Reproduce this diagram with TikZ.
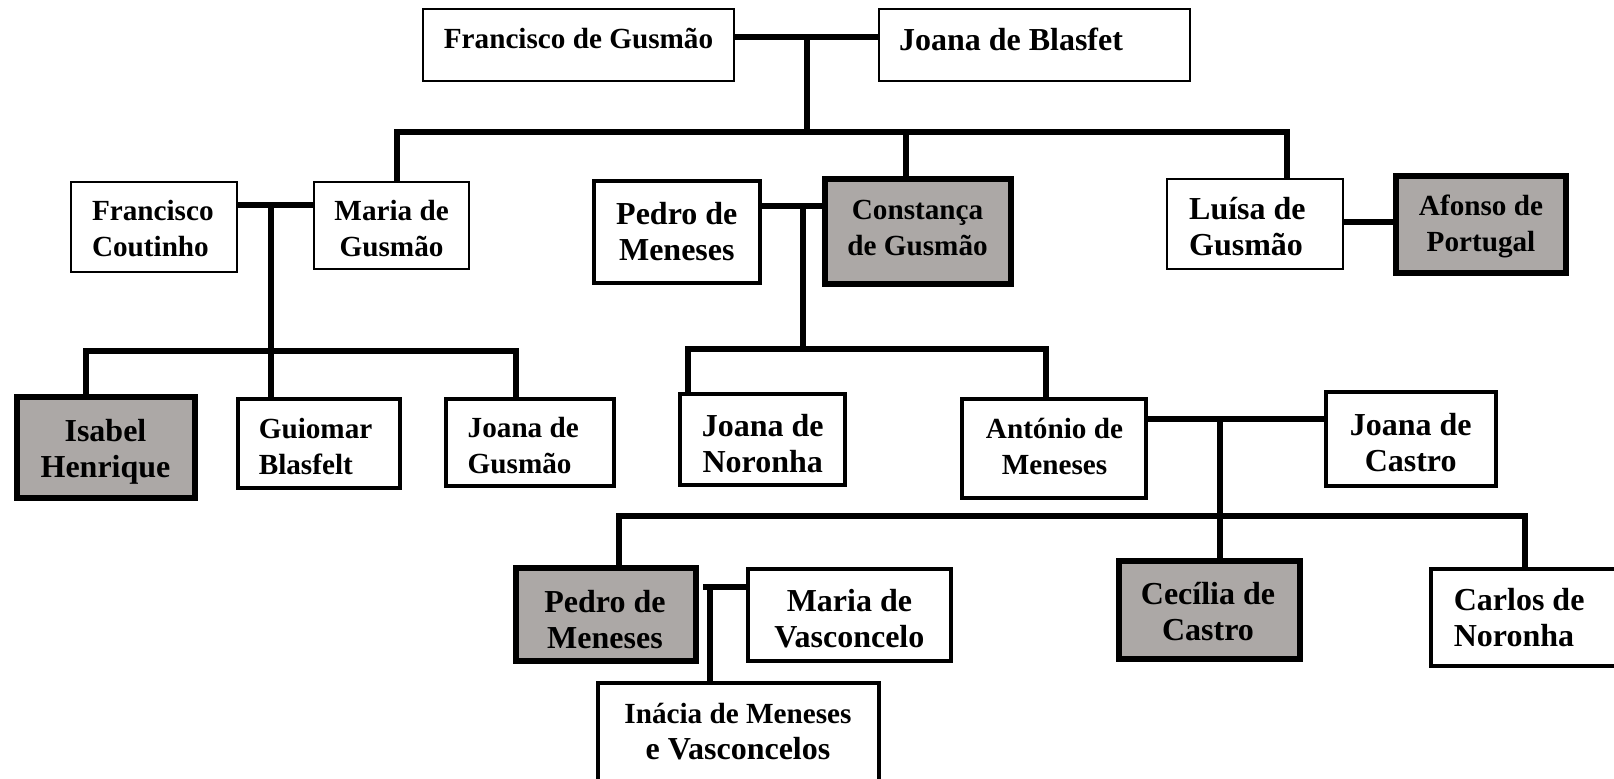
\documentclass[tikz,border=0pt]{standalone}
\usepackage{fontspec}
\setmainfont{Liberation Serif}
\usetikzlibrary{fit,calc,backgrounds}
\definecolor{boxgray}{RGB}{172,168,166}
\tikzset{
  pb/.style={draw=black, fill=white, inner sep=0pt, line width=#1},
  pbthin/.style={pb=0.75pt},
  pbmed/.style={pb=2pt},
  pbgray/.style={pb=3pt, fill=boxgray},
  conn/.style={line width=3pt, line join=miter},
  txtA/.style={font=\bfseries\fontsize{14.6pt}{18pt}\selectfont, align=center, inner sep=0pt},
  txtB/.style={font=\bfseries\fontsize{16pt}{18pt}\selectfont, align=center, inner sep=0pt},
  lft/.style={align=left, anchor=west},
}
\begin{document}
\begin{tikzpicture}[x=0.5pt, y=-0.5pt]
\useasboundingbox (0,0) rectangle (1614,779);
\clip (0,0) rectangle (1614,779);
\begin{scope}[on background layer]
  \fill[white] (0,0) rectangle (1614,779);
\end{scope}

% boxes
\node[pbthin, fit={(423,9) (734,81)}] (fg) {};
\node[pbthin, fit={(879,9) (1190,81)}] (jb) {};
\node[pbthin, fit={(71,182) (237,272)}] (fc) {};
\node[pbthin, fit={(314,182) (469,269)}] (mg) {};
\node[pbmed, fit={(594,181) (760,283)}] (pm1) {};
\node[pbgray, fit={(824.5,179) (1011,284)}] (cg) {};
\node[pbthin, fit={(1167,179) (1343,269)}] (lg) {};
\node[pbgray, fit={(1396,176) (1566,273)}] (af) {};
\node[pbgray, fit={(16.5,397) (194.5,498)}] (ih) {};
\node[pbmed, fit={(238,399) (400,488)}] (gb) {};
\node[pbmed, fit={(446,399) (614,486)}] (jg) {};
\node[pbmed, fit={(680,394) (845,485)}] (jn) {};
\node[pbmed, fit={(962,399) (1146,498)}] (am) {};
\node[pbmed, fit={(1326,392) (1496,486)}] (jc) {};
\node[pbgray, fit={(516,568) (696,661)}] (pm2) {};
\node[pbmed, fit={(748,569) (951,661)}] (mv) {};
\node[pbmed, fit={(598,683) (879,800)}] (iv) {};
\node[pbgray, fit={(1119,561) (1300,659)}] (cc) {};
\node[pbmed, fit={(1431,569) (1650,666)}] (cn) {};

% texts
\node[txtA] (fgX) at (578.5,39) {Francisco de Gusmão};
\node[txtB, anchor=west] (jbX) at (898.6,39.5) {Joana de Blasfet};
\node[txtA, lft] (fcX) at (91.6,228.5) {Francisco\\Coutinho};
\node[txtA] (mgX) at (391.6,228.5) {Maria de\\Gusmão};
\node[txtB] (pm1X) at (676.8,232) {Pedro de\\Meneses};
\node[txtA] (cgX) at (917.6,228.5) {Constança\\de Gusmão};
\node[txtB, lft] (lgX) at (1188.8,227) {Luísa de\\Gusmão};
\node[txtA] (afX) at (1481,226.5) {Afonso de\\Portugal};
\node[txtB] (ihX) at (105.5,452) {Isabel\\Henrique};
\node[txtA, lft] (gbX) at (258.4,446.5) {Guiomar\\Blasfelt};
\node[txtA, lft] (jgX) at (467.3,445.5) {Joana de\\Gusmão};
\node[txtB] (jnX) at (762.7,444) {Joana de\\Noronha};
\node[txtA] (amX) at (1054.5,446.5) {António de\\Meneses};
\node[txtB] (jcX) at (1410.7,442.5) {Joana de\\Castro};
\node[txtB] (pm2X) at (605,619.5) {Pedro de\\Meneses};
\node[txtB] (mvX) at (849.4,618.5) {Maria de\\Vasconcelo};
\node[txtB] (ccX) at (1208,611.5) {Cecília de\\Castro};
\node[txtB, lft] (cnX) at (1453.4,618) {Carlos de\\Noronha};
\node[txtA] (ivX) at (738,732) {Inácia de Meneses\\{\fontsize{16pt}{18pt}\selectfont e Vasconcelos}};

% connectors
\begin{scope}[on background layer]
  \coordinate (j1) at (807,37);
  \coordinate (bar1) at (807,132);
  \coordinate (mgT) at ($(mg.north)+(5.5,0)$);
  \coordinate (cgT) at ($(cg.north)+(-11.75,0)$);
  \coordinate (lgT) at ($(lg.north)+(32,0)$);
  \draw[conn] (fg.east |- j1) -- (jb.west |- j1);
  \draw[conn] (j1) -- (bar1);
  \draw[conn] (mgT) |- (bar1) -| (lgT);
  \draw[conn] (cgT) -- (cgT |- bar1);

  \coordinate (j2) at (271,205);
  \coordinate (bar2) at (271,351);
  \coordinate (ihT) at ($(ih.north)+(-19.5,0)$);
  \coordinate (gbT) at ($(gb.north)+(-48,0)$);
  \coordinate (jgT) at ($(jg.north)+(-14,0)$);
  \draw[conn] (fc.east |- j2) -- (mg.west |- j2);
  \draw[conn] (j2) -- (gbT);
  \draw[conn] (ihT) |- (bar2) -| (jgT);

  \coordinate (j3) at (803,206);
  \coordinate (bar3) at (803,349);
  \coordinate (jnT) at ($(jn.north)+(-74.5,0)$);
  \coordinate (amT) at ($(am.north)+(-8,0)$);
  \draw[conn] (pm1.east |- j3) -- (cg.west |- j3);
  \draw[conn] (j3) -- (bar3);
  \draw[conn] (jnT) |- (bar3) -| (amT);

  \coordinate (j4) at (1370,222);
  \draw[conn] (lg.east |- j4) -- (af.west |- j4);

  \coordinate (j5) at (1220,419);
  \coordinate (bar4) at (1220,516);
  \coordinate (ccT) at ($(cc.north)+(10.5,0)$);
  \coordinate (pm2T) at ($(pm2.north)+(13,0)$);
  \coordinate (cnT) at ($(cn.north)+(-15.5,0)$);
  \draw[conn] (am.east |- j5) -- (jc.west |- j5);
  \draw[conn] (j5) -- (ccT);
  \draw[conn] (pm2T) |- (bar4) -| (cnT);

  \coordinate (j6) at (710,587);
  \coordinate (pmR) at ($(pm2.east |- j6)+(4,0)$);
  \draw[conn] (pmR) -- (mv.west |- j6);
  \draw[conn] (j6) -- (iv.north -| j6);
\end{scope}
\end{tikzpicture}
\end{document}
